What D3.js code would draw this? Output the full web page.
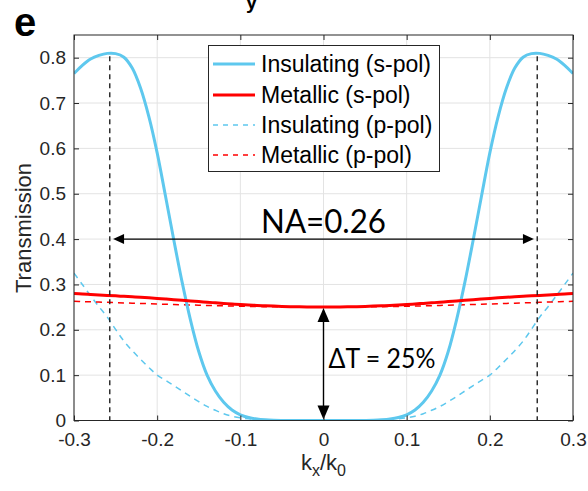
<!DOCTYPE html>
<html>
<head>
<meta charset="utf-8">
<script src="https://cdn.jsdelivr.net/npm/d3@7"></script>
<style>
  html, body { margin: 0; padding: 0; background: #fff; }
  svg { display: block; }
  .tick text { font-family: "Liberation Sans", Arial, sans-serif; fill: #262626; }
</style>
</head>
<body>
<svg id="chart" width="588" height="491"></svg>
<script>
// In-plane wavevector kx/k0
const kx = [-0.30,-0.29,-0.28,-0.27,-0.26,-0.25,-0.24,-0.23,-0.22,-0.21,-0.20,-0.19,-0.18,-0.17,-0.16,-0.15,-0.14,-0.13,-0.12,-0.11,-0.10,-0.09,-0.08,-0.07,-0.06,-0.05,-0.04,-0.03,-0.02,-0.01,0.00,
  0.01,0.02,0.03,0.04,0.05,0.06,0.07,0.08,0.09,0.10,0.11,0.12,0.13,0.14,0.15,0.16,0.17,0.18,0.19,0.20,0.21,0.22,0.23,0.24,0.25,0.26,0.27,0.28,0.29,0.30];

// Transmission, insulating state, s-polarisation
const insulatingS = [0.765,0.783,0.797,0.805,0.8095,0.809,0.801,0.777,0.733,0.670,0.590,0.495,0.398,0.305,0.222,0.152,0.100,0.065,0.040,0.023,0.0125,0.0065,0.0032,0.0015,0.0006,0.0002,0,0,0,0,0,
  0,0,0,0,0.0002,0.0006,0.0015,0.0032,0.0065,0.0125,0.023,0.040,0.065,0.100,0.152,0.222,0.305,0.398,0.495,0.590,0.670,0.733,0.777,0.801,0.809,0.8095,0.805,0.797,0.783,0.765];

// Transmission, metallic state, s-polarisation
const metallicS = [0.2800,0.2790,0.2779,0.2768,0.2757,0.2748,0.2738,0.2727,0.2716,0.2704,0.2692,0.2679,0.2665,0.2651,0.2637,0.2622,0.2608,0.2595,0.2582,0.2570,0.2558,0.2548,0.2538,0.2530,0.2522,0.2515,0.2510,0.2506,0.2503,0.2501,0.2500,
  0.2501,0.2503,0.2506,0.2510,0.2515,0.2522,0.2530,0.2538,0.2548,0.2558,0.2570,0.2582,0.2595,0.2608,0.2622,0.2637,0.2651,0.2665,0.2679,0.2692,0.2704,0.2716,0.2727,0.2738,0.2748,0.2757,0.2768,0.2779,0.2790,0.2800];

// Transmission, insulating state, p-polarisation
const insulatingP = [0.3250,0.3000,0.2750,0.2510,0.2280,0.2010,0.1750,0.1540,0.1350,0.1170,0.1000,0.0885,0.0770,0.0650,0.0530,0.0415,0.0310,0.0225,0.0150,0.0095,0.0060,0.0038,0.0022,0.0011,0.0005,0.0002,0.0001,0,0,0,0,
  0,0,0,0.0001,0.0002,0.0005,0.0011,0.0022,0.0038,0.0060,0.0095,0.0150,0.0225,0.0310,0.0415,0.0530,0.0650,0.0770,0.0885,0.1000,0.1170,0.1350,0.1540,0.1750,0.2010,0.2280,0.2510,0.2750,0.3000,0.3250];

// Transmission, metallic state, p-polarisation
const metallicP = [0.2630,0.2623,0.2617,0.2611,0.2605,0.2599,0.2593,0.2587,0.2581,0.2575,0.2569,0.2563,0.2558,0.2552,0.2547,0.2542,0.2537,0.2532,0.2528,0.2524,0.2520,0.2516,0.2513,0.2510,0.2507,0.2505,0.2503,0.2502,0.2501,0.2500,0.2500,
  0.2500,0.2501,0.2502,0.2503,0.2505,0.2507,0.2510,0.2513,0.2516,0.2520,0.2524,0.2528,0.2532,0.2537,0.2542,0.2547,0.2552,0.2558,0.2563,0.2569,0.2575,0.2581,0.2587,0.2593,0.2599,0.2605,0.2611,0.2617,0.2623,0.2630];

const xTicks = [-0.3,-0.2,-0.1,0,0.1,0.2,0.3];
const xTickLabels = ["-0.3","-0.2","-0.1","0","0.1","0.2","0.3"];
const yTicks = [0,0.1,0.2,0.3,0.4,0.5,0.6,0.7,0.8];
const yTickLabels = ["0","0.1","0.2","0.3","0.4","0.5","0.6","0.7","0.8"];

const legendNames = ["Insulating (s-pol)","Metallic (s-pol)","Insulating (p-pol)","Metallic (p-pol)"];

// Numerical aperture edge and contrast annotation
const naEdge = 0.257;      // dashed markers at the transmission peaks
const naArrowEnd = 0.253;  // arrow tips
const naLabel = "NA=0.26";
const naLevel = 0.4;
const deltaTop = 0.25, deltaBottom = 0;
const deltaLabel = "\u0394T = 25%";
const peakT = 0.8095;

const BLUE = "#5ec8ee", RED = "#ff0000", AXIS = "#262626", GRID = "#e3e3e3";

const svg = d3.select("#chart");
const L = 74, R = 573, T = 35, B = 420.5;
const x = d3.scaleLinear().domain([-0.3, 0.3]).range([L, R]);
const y = d3.scaleLinear().domain([0, 0.85]).range([B, T]);

// grid
const grid = svg.append("g");
grid.selectAll(".gx").data(xTicks).join("line")
  .attr("x1", d => x(d)).attr("x2", d => x(d)).attr("y1", T).attr("y2", B)
  .attr("stroke", GRID).attr("stroke-width", 1);
grid.selectAll(".gy").data(yTicks).join("line")
  .attr("x1", L).attr("x2", R).attr("y1", d => y(d)).attr("y2", d => y(d))
  .attr("stroke", GRID).attr("stroke-width", 1);

// curves
const series = [
  {v: insulatingS, color: BLUE, w: 3, dash: null},
  {v: metallicS, color: RED, w: 3, dash: null},
  {v: insulatingP, color: BLUE, w: 1.5, dash: "6,5"},
  {v: metallicP, color: RED, w: 1.5, dash: "6,5"}
];
const line = d3.line().x(d => x(d[0])).y(d => y(d[1])).curve(d3.curveCatmullRom.alpha(0.5));
svg.append("clipPath").attr("id", "plotclip").append("rect")
  .attr("x", L).attr("y", T).attr("width", R - L).attr("height", B - T);
const curves = svg.append("g").attr("clip-path", "url(#plotclip)");
// dashed first so the solid lines sit on top
[2, 3, 0, 1].forEach(i => {
  const s = series[i];
  curves.append("path")
    .attr("d", line(kx.map((k, j) => [k, s.v[j]])))
    .attr("fill", "none").attr("stroke", s.color).attr("stroke-width", s.w)
    .attr("stroke-dasharray", s.dash).attr("stroke-linejoin", "round");
});

// NA markers
[-naEdge, naEdge].forEach(k => {
  svg.append("line").attr("x1", x(k)).attr("x2", x(k)).attr("y1", y(peakT) + 3).attr("y2", B)
    .attr("stroke", "#222").attr("stroke-width", 1.4).attr("stroke-dasharray", "5,4");
});

// arrows
function arrowHead(tipX, tipY, dir, len, half) {
  // dir: unit vector pointing towards the tip
  const bx = tipX - dir[0] * len, by = tipY - dir[1] * len;
  const px = -dir[1], py = dir[0];
  return `M${tipX},${tipY}L${bx + px * half},${by + py * half}L${bx - px * half},${by - py * half}Z`;
}
const ann = svg.append("g");
const ya = y(naLevel);
ann.append("line").attr("x1", x(-naArrowEnd) + 8).attr("x2", x(naArrowEnd) - 8)
  .attr("y1", ya).attr("y2", ya).attr("stroke", "#000").attr("stroke-width", 1.4);
ann.append("path").attr("d", arrowHead(x(-naArrowEnd), ya, [-1, 0], 11, 5)).attr("fill", "#000");
ann.append("path").attr("d", arrowHead(x(naArrowEnd), ya, [1, 0], 11, 5)).attr("fill", "#000");

const xd = x(0);
ann.append("line").attr("x1", xd).attr("x2", xd)
  .attr("y1", y(deltaTop) + 8).attr("y2", y(deltaBottom) - 8)
  .attr("stroke", "#000").attr("stroke-width", 1.4);
ann.append("path").attr("d", arrowHead(xd, y(deltaTop) + 1, [0, -1], 14, 6)).attr("fill", "#000");
ann.append("path").attr("d", arrowHead(xd, y(deltaBottom) - 1, [0, 1], 14, 6)).attr("fill", "#000");

ann.append("text").attr("x", x(0)).attr("y", ya - 6)
  .attr("text-anchor", "middle").attr("font-family", "Lato, 'Open Sans', sans-serif")
  .attr("font-size", 32).attr("textLength", 125).attr("lengthAdjust", "spacingAndGlyphs")
  .attr("fill", "#000").text(naLabel);
ann.append("text").attr("x", x(0) + 5).attr("y", 368)
  .attr("font-family", "Lato, 'Open Sans', sans-serif")
  .attr("font-size", 27).attr("textLength", 107).attr("lengthAdjust", "spacingAndGlyphs")
  .attr("fill", "#000").text(deltaLabel);

// axes with inward ticks on all four sides
const tickFont = 19;
const xAxis = d3.axisBottom(x).tickValues(xTicks).tickFormat((d, i) => xTickLabels[i])
  .tickSizeInner(-5).tickSizeOuter(0).tickPadding(12);
const gx = svg.append("g").attr("transform", `translate(0,${B})`).call(xAxis);
const xTop = d3.axisTop(x).tickValues(xTicks).tickFormat("").tickSizeInner(-5).tickSizeOuter(0);
const gxt = svg.append("g").attr("transform", `translate(0,${T})`).call(xTop);
const yAxis = d3.axisLeft(y).tickValues(yTicks).tickFormat((d, i) => yTickLabels[i])
  .tickSizeInner(-5).tickSizeOuter(0).tickPadding(8);
const gy = svg.append("g").attr("transform", `translate(${L},0)`).call(yAxis);
const yRight = d3.axisRight(y).tickValues(yTicks).tickFormat("").tickSizeInner(-5).tickSizeOuter(0);
const gyr = svg.append("g").attr("transform", `translate(${R},0)`).call(yRight);
[gx, gxt, gy, gyr].forEach(g => {
  g.select(".domain").remove();
  g.selectAll(".tick line").attr("stroke", AXIS).attr("stroke-width", 1);
  g.selectAll(".tick text").attr("font-size", tickFont).attr("fill", AXIS);
});
svg.append("rect").attr("x", L).attr("y", T).attr("width", R - L).attr("height", B - T)
  .attr("fill", "none").attr("stroke", AXIS).attr("stroke-width", 1);

// axis titles
svg.append("text").attr("transform", `translate(31,228) rotate(-90)`)
  .attr("text-anchor", "middle").attr("font-family", "Liberation Sans, Arial, sans-serif")
  .attr("font-size", 22).attr("fill", AXIS).text("Transmission");
const xl = svg.append("text").attr("x", (L + R) / 2).attr("y", 470)
  .attr("text-anchor", "middle").attr("font-family", "Liberation Sans, Arial, sans-serif")
  .attr("font-size", 22).attr("fill", AXIS);
xl.append("tspan").text("k");
xl.append("tspan").attr("font-size", 16).attr("dy", 6).text("x");
xl.append("tspan").attr("dy", -6).text("/k");
xl.append("tspan").attr("font-size", 16).attr("dy", 6).text("0");

// legend
const lg = svg.append("g");
lg.append("rect").attr("x", 208.5).attr("y", 45.5).attr("width", 231).attr("height", 126)
  .attr("fill", "#fff").attr("stroke", AXIS).attr("stroke-width", 1);
const rowY = [64, 95, 125, 155];
legendNames.forEach((name, i) => {
  const s = series[i];
  lg.append("line").attr("x1", 213).attr("x2", 255).attr("y1", rowY[i]).attr("y2", rowY[i])
    .attr("stroke", s.color).attr("stroke-width", s.w).attr("stroke-dasharray", s.dash ? "5,5" : null);
  lg.append("text").attr("x", 261).attr("y", rowY[i] + 8)
    .attr("font-family", "Liberation Sans, Arial, sans-serif").attr("font-size", 23)
    .attr("fill", "#000").text(name);
});

// panel letter and the tail of the panel title above the frame
svg.append("text").attr("x", 14).attr("y", 36).attr("font-family", "Liberation Sans, Arial, sans-serif")
  .attr("font-weight", "bold").attr("font-size", 40).attr("fill", "#000").text("e");
svg.append("text").attr("x", 246).attr("y", 9).attr("font-family", "Liberation Sans, Arial, sans-serif")
  .attr("font-weight", "bold").attr("font-size", 20).attr("fill", "#000").text("y");
</script>
</body>
</html>
